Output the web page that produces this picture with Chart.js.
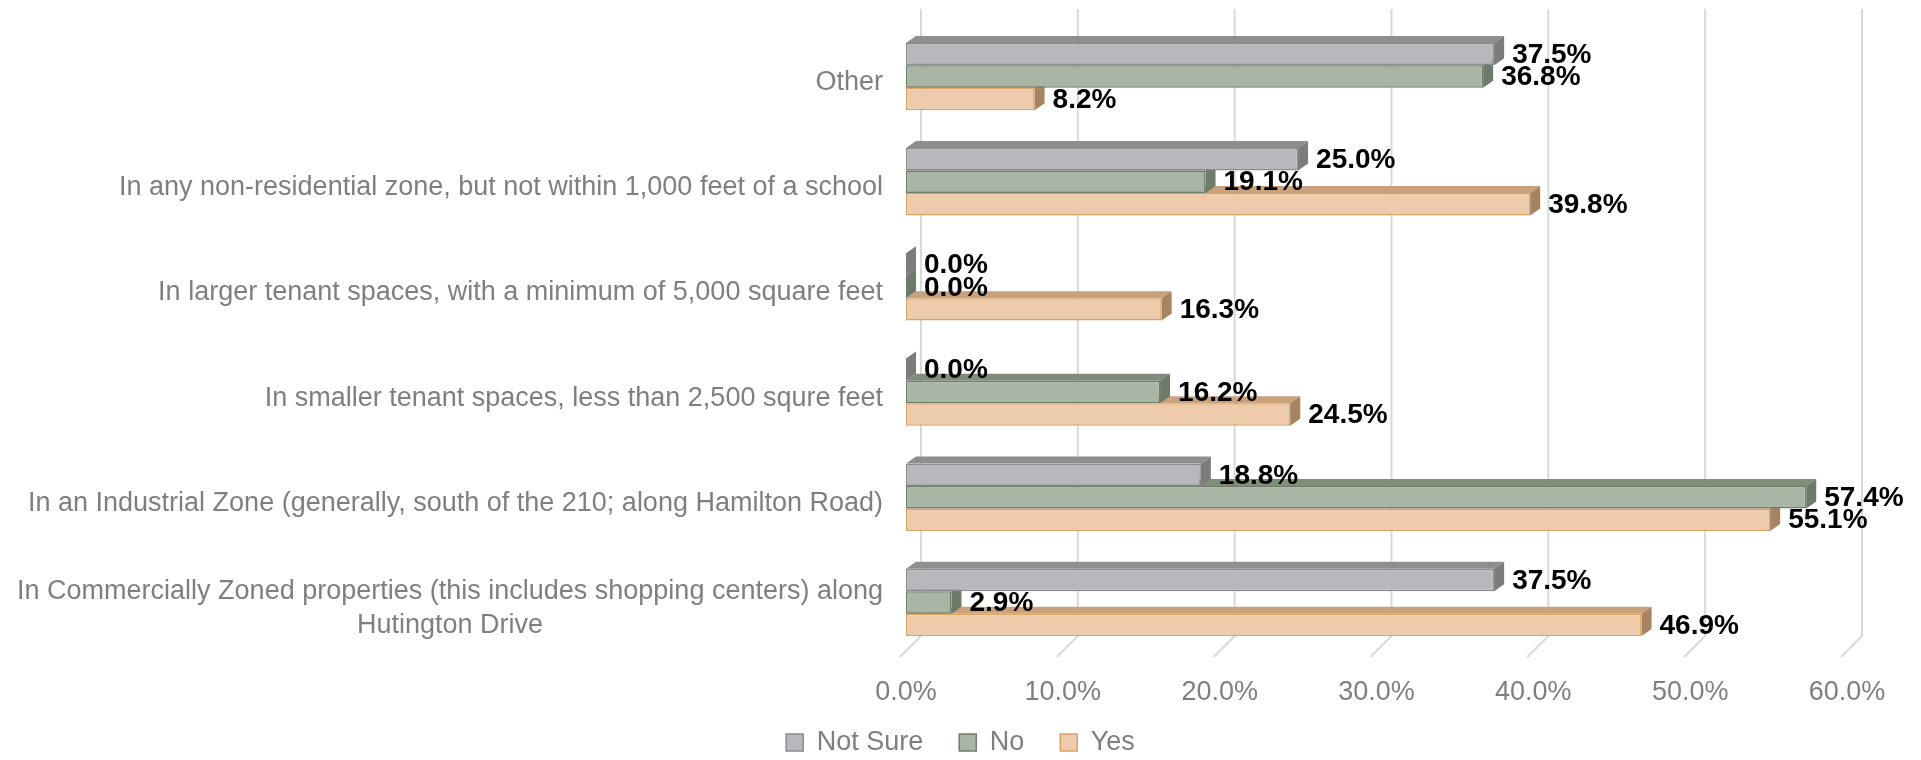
<!DOCTYPE html>
<html>
<head>
<meta charset="utf-8">
<script src="https://cdn.jsdelivr.net/npm/chart.js@4"></script>
<style>
  html, body { margin: 0; padding: 0; background: #fff; }
  #wrap { width: 1921px; height: 760px; position: relative; }
</style>
</head>
<body>
<div id="wrap"><canvas id="chartZonas"></canvas></div>
<script>
// categorias (de cima para baixo)
const categorias = [
  'Other',
  'In any non-residential zone, but not within 1,000 feet of a school',
  'In larger tenant spaces, with a minimum of 5,000 square feet',
  'In smaller tenant spaces, less than 2,500 squre feet',
  'In an Industrial Zone (generally, south of the 210; along Hamilton Road)',
  ['In Commercially Zoned properties (this includes shopping centers) along', 'Hutington Drive']
];
const notSure = [37.5, 25.0, 0.0, 0.0, 18.8, 37.5];
const no      = [36.8, 19.1, 0.0, 16.2, 57.4, 2.9];
const yes     = [8.2, 39.8, 16.3, 24.5, 55.1, 46.9];
const ticksX  = [0, 10, 20, 30, 40, 50, 60];

const FONTE = '"Liberation Sans", Arial, Helvetica, sans-serif';
const CINZA = '#7f7f7f';
const PROF = { dx: 10, dy: -7 };   // profundidade das barras "3D"

// cores: frente, topo, lateral, borda
const estilos = [
  { frente: '#b7b8bb', topo: '#8d8e90', lado: '#7b7c7e', borda: '#8a8b8d' },
  { frente: '#a9b6a5', topo: '#7f8d7b', lado: '#6d7b69', borda: '#6f7e6b' },
  { frente: '#edcbab', topo: '#c9a27c', lado: '#a8835f', borda: '#d9a366' }
];

// grade com "piso" inclinado, atrás das barras
const gradePlugin = {
  id: 'grade3d',
  beforeDatasetsDraw(chart) {
    const { ctx, scales: { x } } = chart;
    ctx.save();
    ctx.strokeStyle = '#d9d9d9';
    ctx.lineWidth = 2;
    ticksX.forEach(v => {
      const px = x.getPixelForValue(v) + 15;
      ctx.beginPath();
      ctx.moveTo(px, 9);
      ctx.lineTo(px, 636);
      ctx.lineTo(px - 21, 657);
      ctx.stroke();
    });
    ctx.restore();
  }
};

// faces de topo e lateral para cada barra
const barras3dPlugin = {
  id: 'barras3d',
  afterDatasetDraw(chart, args) {
    const { ctx } = chart;
    const est = estilos[args.index];
    ctx.save();
    args.meta.data.forEach(bar => {
      const h = bar.height;
      const l = bar.base, r = bar.x;
      const t = bar.y - h / 2, b = bar.y + h / 2;
      // topo
      ctx.fillStyle = est.topo;
      ctx.beginPath();
      ctx.moveTo(l, t);
      ctx.lineTo(l + PROF.dx, t + PROF.dy);
      ctx.lineTo(r + PROF.dx, t + PROF.dy);
      ctx.lineTo(r, t);
      ctx.closePath();
      ctx.fill();
      // lateral
      ctx.fillStyle = est.lado;
      ctx.beginPath();
      ctx.moveTo(r, t);
      ctx.lineTo(r + PROF.dx, t + PROF.dy);
      ctx.lineTo(r + PROF.dx, b + PROF.dy);
      ctx.lineTo(r, b);
      ctx.closePath();
      ctx.fill();
    });
    ctx.restore();
  },
  afterDatasetsDraw(chart) {
    const { ctx } = chart;
    ctx.save();
    ctx.font = 'bold 28px ' + FONTE;
    ctx.fillStyle = '#000';
    ctx.textAlign = 'left';
    ctx.textBaseline = 'middle';
    chart.data.datasets.forEach((ds, i) => {
      chart.getDatasetMeta(i).data.forEach((bar, j) => {
        ctx.fillText(ds.data[j].toFixed(1) + '%', bar.x + PROF.dx + 8, bar.y + 1);
      });
    });
    ctx.restore();
  }
};

// rótulos das categorias (linhas centradas no bloco, bloco alinhado à direita)
const rotulosPlugin = {
  id: 'rotulosY',
  afterDraw(chart) {
    const { ctx, scales: { y } } = chart;
    ctx.save();
    ctx.font = '27px ' + FONTE;
    ctx.fillStyle = CINZA;
    ctx.textAlign = 'center';
    ctx.textBaseline = 'middle';
    const dir = 883, alt = 34;
    categorias.forEach((c, i) => {
      const linhas = Array.isArray(c) ? c : [c];
      const larg = Math.max(...linhas.map(s => ctx.measureText(s).width));
      const cy = y.getPixelForTick(i) + 6;
      linhas.forEach((s, k) => {
        ctx.fillText(s, dir - larg / 2, cy + (k - (linhas.length - 1) / 2) * alt);
      });
    });
    ctx.restore();
  }
};

const chartZonas = new Chart(document.getElementById('chartZonas'), {
  type: 'bar',
  data: {
    labels: categorias,
    datasets: [
      { label: 'Not Sure', data: notSure, backgroundColor: estilos[0].frente, borderColor: estilos[0].borda },
      { label: 'No', data: no, backgroundColor: estilos[1].frente, borderColor: estilos[1].borda },
      { label: 'Yes', data: yes, backgroundColor: estilos[2].frente, borderColor: estilos[2].borda }
    ]
  },
  options: {
    indexAxis: 'y',
    responsive: true,
    maintainAspectRatio: false,
    devicePixelRatio: 1,
    animation: false,
    datasets: { bar: { categoryPercentage: 0.64, barPercentage: 1.0, borderWidth: 1.5, borderSkipped: false } },
    layout: { padding: { left: 74, right: 74, top: 24, bottom: -6 } },
    scales: {
      x: {
        min: 0, max: 60,
        grid: { display: false, drawTicks: false },
        border: { display: false },
        ticks: {
          stepSize: 10,
          padding: 21,
          color: CINZA,
          font: { family: FONTE, size: 27 },
          callback: v => v.toFixed(1) + '%'
        },
        afterFit: s => {
          s.height = 38;
          s._computeLabelArea = () => undefined; // não cortar os rótulos
        }
      },
      y: {
        grid: { display: false, drawTicks: false },
        border: { display: false },
        ticks: { display: false },
        afterFit: s => { s.width = 832; }
      }
    },
    plugins: {
      tooltip: { enabled: false },
      legend: {
        position: 'bottom',
        labels: {
          boxWidth: 17, boxHeight: 17, padding: 36,
          color: CINZA,
          font: { family: FONTE, size: 27 }
        }
      }
    }
  },
  plugins: [gradePlugin, barras3dPlugin, rotulosPlugin]
});
</script>
</body>
</html>
